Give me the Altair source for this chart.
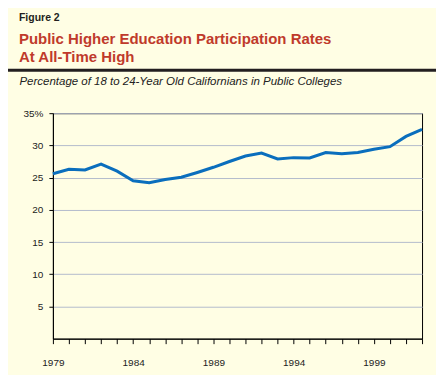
import altair as alt
import pandas as pd

years = list(range(1979, 2003))
rates = [25.6, 26.3, 26.2, 27.1, 26.0, 24.5, 24.2, 24.7, 25.05, 25.8, 26.6, 27.5,
         28.35, 28.8, 27.9, 28.1, 28.05, 28.9, 28.7, 28.9, 29.4, 29.8, 31.4, 32.5]
y_ticks = [5, 10, 15, 20, 25, 30, 35]
x_label_years = [1979, 1984, 1989, 1994, 1999]

fig_label = "Figure 2"
title_lines = ["Public Higher Education Participation Rates", "At All-Time High"]
subtitle = "Percentage of 18 to 24-Year Old Californians in Public Colleges"

FONT = "Liberation Sans"

df = pd.DataFrame({"year": years, "rate": rates})

x_expr = "indexof([" + ",".join(str(v) for v in x_label_years) + "], datum.value) >= 0 ? datum.label : ''"
y_expr = "datum.value == 35 ? '35%' : datum.label"

line = alt.Chart(df).mark_line(color="#0A6EBD", strokeWidth=3).encode(
    x=alt.X("year:Q",
            scale=alt.Scale(domain=[1979, 2002], nice=False, zero=False),
            axis=alt.Axis(values=years, format="d", labelExpr=x_expr, title=None,
                          grid=False, tickSize=5, labelPadding=14,
                          labelFlush=False, labelOverlap=False)),
    y=alt.Y("rate:Q",
            scale=alt.Scale(domain=[0, 35], nice=False),
            axis=alt.Axis(values=y_ticks, labelExpr=y_expr, title=subtitle,
                          titleAngle=0, titleAlign="left", titleBaseline="alphabetic",
                          titleX=-34, titleY=-29, titleFontStyle="italic",
                          titleFontWeight="normal", titleFontSize=11.5, titleColor="#222222",
                          grid=True, gridColor="#B4BCCC", tickSize=4, labelPadding=6)),
)

bar = alt.Chart(pd.DataFrame({"k": [0]})).mark_rule(color="#231F20", strokeWidth=3).encode(
    x=alt.value(-46), x2=alt.value(384), y=alt.value(-43)
)

chart = alt.layer(bar, line).properties(
    width=370,
    height=226,
    autosize=alt.AutoSizeParams(type="none"),
    padding={"left": 45, "top": 105, "right": 14, "bottom": 36},
    title=alt.TitleParams(
        text=fig_label, subtitle=title_lines, anchor="start", frame="group",
        font=FONT, fontSize=10.5, fontWeight="bold", color="#231F20",
        subtitleFont=FONT, subtitleFontSize=15, subtitleFontWeight="bold",
        subtitleColor="#BF3A2B", subtitlePadding=8, subtitleLineHeight=18,
        dx=-34, offset=4,
    ),
).configure(
    background="#FFFEE4",
    font=FONT,
).configure_view(
    stroke="black", strokeWidth=1,
).configure_axis(
    labelFont=FONT, labelFontSize=10, labelColor="#222222",
    domainColor="black", tickColor="black", titleFont=FONT,
)

chart.save("out.html", embed_options={"renderer": "svg", "actions": False})
